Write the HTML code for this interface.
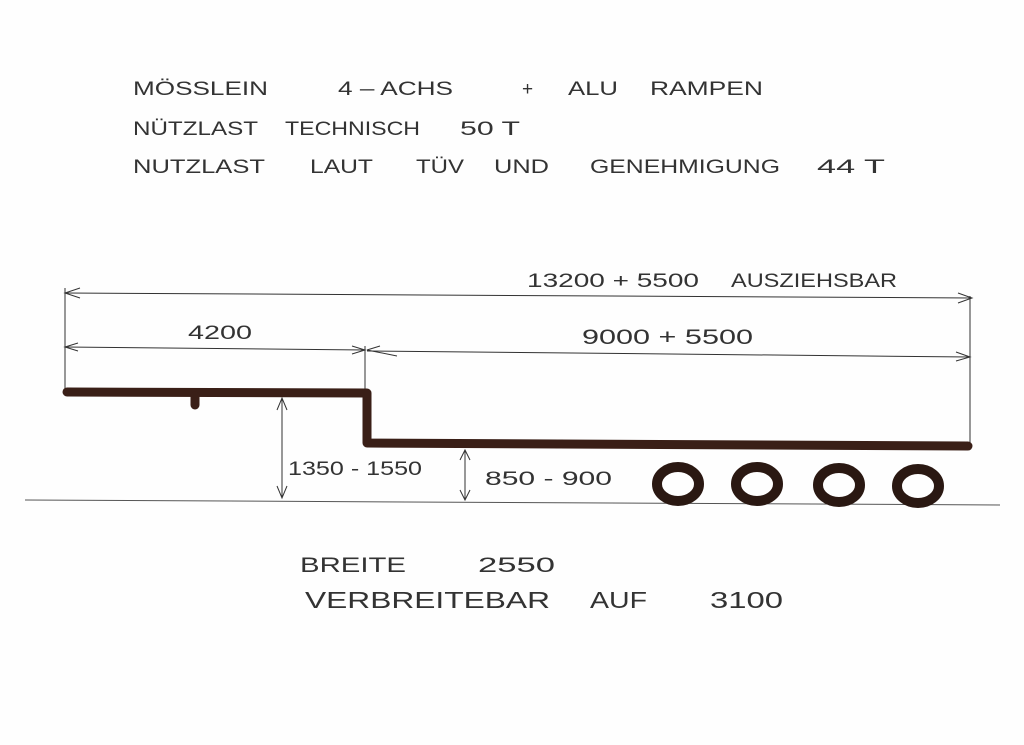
<!DOCTYPE html>
<html><head><meta charset="utf-8"><style>
html,body{margin:0;padding:0;background:#fff;}
svg{display:block}
text{font-family:"Liberation Sans",sans-serif;fill:#333;}
</style></head><body>
<svg width="1024" height="745" viewBox="0 0 1024 745" xmlns="http://www.w3.org/2000/svg">
<rect width="1024" height="745" fill="#fefefe"/>
<g font-size="19">
<text x="133" y="95" textLength="135" lengthAdjust="spacingAndGlyphs">MÖSSLEIN</text>
<text x="338" y="95" textLength="115" lengthAdjust="spacingAndGlyphs">4 – ACHS</text>
<text x="522" y="95" textLength="14">+</text>
<text x="568" y="95" textLength="50" lengthAdjust="spacingAndGlyphs">ALU</text>
<text x="650" y="95" textLength="113" lengthAdjust="spacingAndGlyphs">RAMPEN</text>
<text x="133" y="135" textLength="125" lengthAdjust="spacingAndGlyphs">NÜTZLAST</text>
<text x="285" y="135" textLength="135" lengthAdjust="spacingAndGlyphs">TECHNISCH</text>
<text x="460" y="135" textLength="60" lengthAdjust="spacingAndGlyphs">50 T</text>
<text x="133" y="173" textLength="132" lengthAdjust="spacingAndGlyphs">NUTZLAST</text>
<text x="310" y="173" textLength="63" lengthAdjust="spacingAndGlyphs">LAUT</text>
<text x="416" y="173" textLength="48" lengthAdjust="spacingAndGlyphs">TÜV</text>
<text x="494" y="173" textLength="55" lengthAdjust="spacingAndGlyphs">UND</text>
<text x="590" y="173" textLength="190" lengthAdjust="spacingAndGlyphs">GENEHMIGUNG</text>
<text x="817" y="173" textLength="68" lengthAdjust="spacingAndGlyphs">44 T</text>
<text x="527" y="287" textLength="172" lengthAdjust="spacingAndGlyphs">13200 + 5500</text>
<text x="731" y="287" textLength="166" lengthAdjust="spacingAndGlyphs">AUSZIEHSBAR</text>
<text x="188" y="339" textLength="64" lengthAdjust="spacingAndGlyphs">4200</text>
<text x="582" y="344" font-size="21" textLength="171" lengthAdjust="spacingAndGlyphs">9000 + 5500</text>
<text x="288" y="475" textLength="134" lengthAdjust="spacingAndGlyphs">1350 - 1550</text>
<text x="485" y="485" textLength="127" lengthAdjust="spacingAndGlyphs">850  - 900</text>
<text x="300" y="572" font-size="21" textLength="106" lengthAdjust="spacingAndGlyphs">BREITE</text>
<text x="478" y="572" font-size="21" textLength="77" lengthAdjust="spacingAndGlyphs">2550</text>
<text x="305" y="608" font-size="23" textLength="245" lengthAdjust="spacingAndGlyphs">VERBREITEBAR</text>
<text x="590" y="608" font-size="23" textLength="57" lengthAdjust="spacingAndGlyphs">AUF</text>
<text x="710" y="608" font-size="23" textLength="73" lengthAdjust="spacingAndGlyphs">3100</text>
</g>
<g stroke="#333" stroke-width="1" fill="none">
<line x1="65" y1="293" x2="972" y2="298"/>
<path d="M80 288 L65 293 L80 298 M958 293 L972 298 L958 303"/>
<line x1="65" y1="347" x2="365" y2="350"/>
<path d="M78 343 L65 347 L78 351 M352 346 L365 350 L352 354 M380 346 L367 350 L397 356"/>
<line x1="367" y1="351" x2="970" y2="357"/>
<path d="M956 352 L970 357 L956 361"/>
<line x1="65" y1="288" x2="65" y2="390"/>
<line x1="365" y1="346" x2="365" y2="390"/>
<line x1="970" y1="296" x2="970" y2="445"/>
<line x1="282" y1="398" x2="282" y2="498"/>
<path d="M277 410 L282 398 L287 410 M277 486 L282 498 L287 486"/>
<line x1="465" y1="450" x2="465" y2="500"/>
<path d="M460 460 L465 450 L470 460 M460 490 L465 500 L470 490"/>
<line x1="25" y1="500" x2="1000" y2="505" stroke="#555"/>
</g>
<g stroke="#3a1f17" stroke-width="9" fill="none" stroke-linecap="round" stroke-linejoin="round">
<path d="M67 392 L367 393 L367 443 L968 446"/>
<path d="M195 396 L195 405"/>
</g>
<g stroke="#2a1812" stroke-width="10" fill="none">
<ellipse cx="678" cy="484" rx="21" ry="17"/>
<ellipse cx="757" cy="484" rx="21" ry="17"/>
<ellipse cx="839" cy="485" rx="21" ry="17"/>
<ellipse cx="918" cy="486" rx="21" ry="17"/>
</g>
</svg>
</body></html>
